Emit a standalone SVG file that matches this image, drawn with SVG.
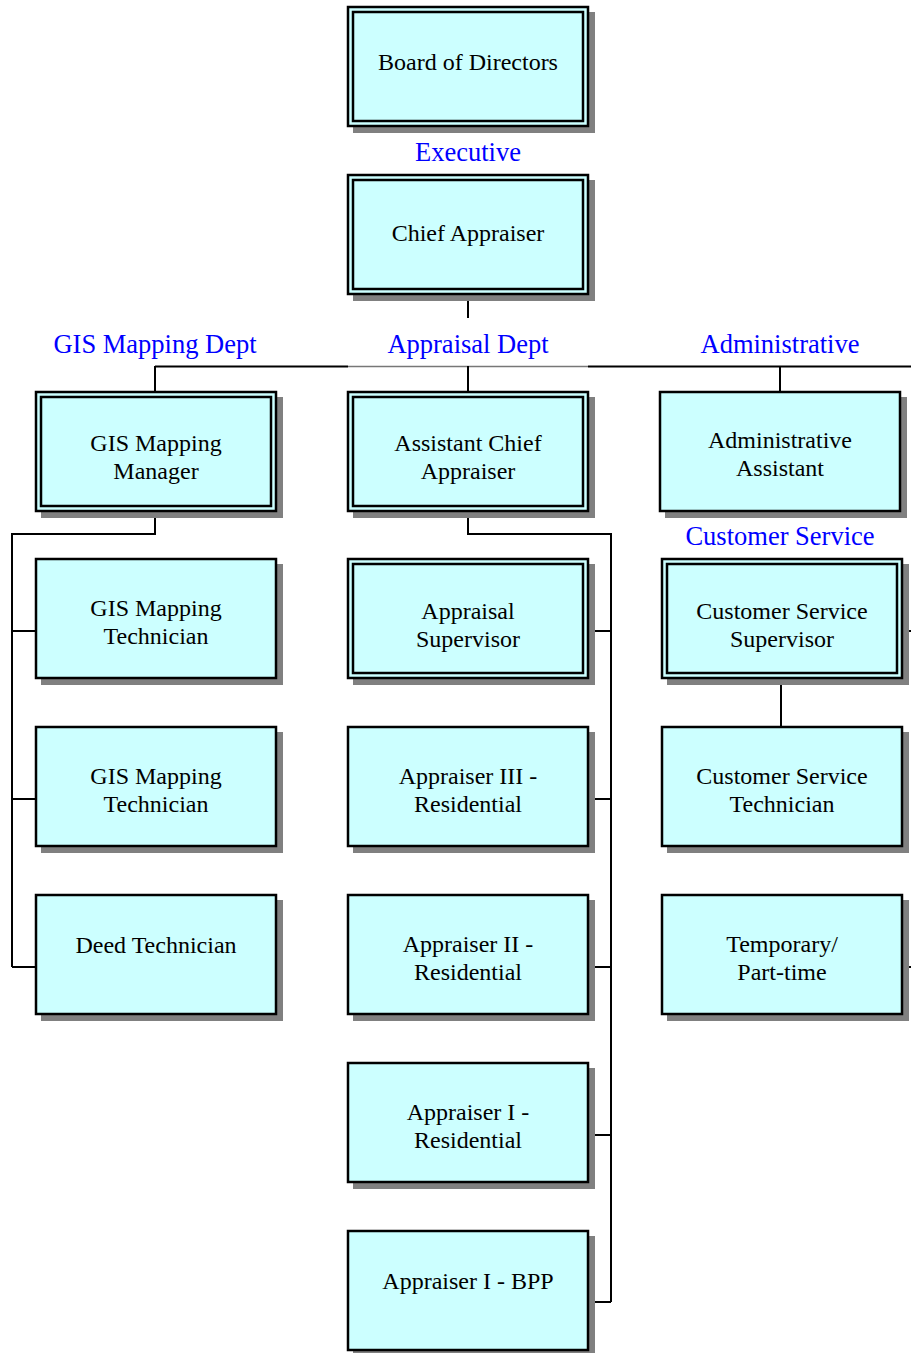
<svg xmlns="http://www.w3.org/2000/svg" width="911" height="1353" viewBox="0 0 911 1353">
<style>
.sh{fill:#808080}
.bx{fill:#ccffff;stroke:#000;stroke-width:2.5}
.in{fill:none;stroke:#000;stroke-width:2.5}
.t{font-family:"Liberation Serif","Times New Roman",serif;font-size:24px;fill:#000;text-anchor:middle}
.lb{font-family:"Liberation Serif","Times New Roman",serif;font-size:26.5px;fill:#0000ff;text-anchor:middle}
.ln{stroke:#000;stroke-width:2;fill:none}
</style>
<rect width="911" height="1353" fill="#fff"/>
<g id="connectors">
<path class="ln" d="M468 295V318"/>
<path class="ln" d="M155 366.5H348"/>
<path d="M348 366.5H588" stroke="#777" stroke-width="1.5"/>
<path class="ln" d="M588 366.5H911"/>
<path class="ln" d="M155 366V391M468 366V391M780 366V391"/>
<path class="ln" d="M155 511V534H12V967M12 631H35M12 799H35M12 967H35"/>
<path class="ln" d="M468 511V534H611V1302M589 631H611M589 799H611M589 967H611M589 1135H611M589 1302H611"/>
<path class="ln" d="M781 679V726"/>
<path class="ln" d="M903 631H911M903 967H911"/>
</g>
<g id="labels">
<text class="lb" x="468" y="161">Executive</text>
<text class="lb" x="155" y="353">GIS Mapping Dept</text>
<text class="lb" x="468" y="353">Appraisal Dept</text>
<text class="lb" x="780" y="353">Administrative</text>
<text class="lb" x="780" y="545">Customer Service</text>
</g>
<g id="board">
<rect class="sh" x="353" y="12" width="242" height="121"/>
<rect class="bx" x="348" y="7" width="240" height="119"/>
<rect class="in" x="353" y="12" width="230" height="109"/>
<text class="t" x="468" y="70">Board of Directors</text>
</g>
<g id="chief">
<rect class="sh" x="353" y="180" width="242" height="121"/>
<rect class="bx" x="348" y="175" width="240" height="119"/>
<rect class="in" x="353" y="180" width="230" height="109"/>
<text class="t" x="468" y="241">Chief Appraiser</text>
</g>
<g id="gis-manager">
<rect class="sh" x="41" y="397" width="242" height="121"/>
<rect class="bx" x="36" y="392" width="240" height="119"/>
<rect class="in" x="41" y="397" width="230" height="109"/>
<text class="t" x="156" y="451">GIS Mapping</text>
<text class="t" x="156" y="479">Manager</text>
</g>
<g id="assistant-chief">
<rect class="sh" x="353" y="397" width="242" height="121"/>
<rect class="bx" x="348" y="392" width="240" height="119"/>
<rect class="in" x="353" y="397" width="230" height="109"/>
<text class="t" x="468" y="451">Assistant Chief</text>
<text class="t" x="468" y="479">Appraiser</text>
</g>
<g id="admin-assistant">
<rect class="sh" x="665" y="397" width="242" height="121"/>
<rect class="bx" x="660" y="392" width="240" height="119"/>
<text class="t" x="780" y="448">Administrative</text>
<text class="t" x="780" y="476">Assistant</text>
</g>
<g id="gis-tech-1">
<rect class="sh" x="41" y="564" width="242" height="121"/>
<rect class="bx" x="36" y="559" width="240" height="119"/>
<text class="t" x="156" y="616">GIS Mapping</text>
<text class="t" x="156" y="644">Technician</text>
</g>
<g id="appraisal-supervisor">
<rect class="sh" x="353" y="564" width="242" height="121"/>
<rect class="bx" x="348" y="559" width="240" height="119"/>
<rect class="in" x="353" y="564" width="230" height="109"/>
<text class="t" x="468" y="619">Appraisal</text>
<text class="t" x="468" y="647">Supervisor</text>
</g>
<g id="cs-supervisor">
<rect class="sh" x="667" y="564" width="242" height="121"/>
<rect class="bx" x="662" y="559" width="240" height="119"/>
<rect class="in" x="667" y="564" width="230" height="109"/>
<text class="t" x="782" y="619">Customer Service</text>
<text class="t" x="782" y="647">Supervisor</text>
</g>
<g id="gis-tech-2">
<rect class="sh" x="41" y="732" width="242" height="121"/>
<rect class="bx" x="36" y="727" width="240" height="119"/>
<text class="t" x="156" y="784">GIS Mapping</text>
<text class="t" x="156" y="812">Technician</text>
</g>
<g id="appraiser-3">
<rect class="sh" x="353" y="732" width="242" height="121"/>
<rect class="bx" x="348" y="727" width="240" height="119"/>
<text class="t" x="468" y="784">Appraiser III -</text>
<text class="t" x="468" y="812">Residential</text>
</g>
<g id="cs-tech">
<rect class="sh" x="667" y="732" width="242" height="121"/>
<rect class="bx" x="662" y="727" width="240" height="119"/>
<text class="t" x="782" y="784">Customer Service</text>
<text class="t" x="782" y="812">Technician</text>
</g>
<g id="deed-tech">
<rect class="sh" x="41" y="900" width="242" height="121"/>
<rect class="bx" x="36" y="895" width="240" height="119"/>
<text class="t" x="156" y="953">Deed Technician</text>
</g>
<g id="appraiser-2">
<rect class="sh" x="353" y="900" width="242" height="121"/>
<rect class="bx" x="348" y="895" width="240" height="119"/>
<text class="t" x="468" y="952">Appraiser II -</text>
<text class="t" x="468" y="980">Residential</text>
</g>
<g id="temp">
<rect class="sh" x="667" y="900" width="242" height="121"/>
<rect class="bx" x="662" y="895" width="240" height="119"/>
<text class="t" x="782" y="952">Temporary/</text>
<text class="t" x="782" y="980">Part-time</text>
</g>
<g id="appraiser-1-res">
<rect class="sh" x="353" y="1068" width="242" height="121"/>
<rect class="bx" x="348" y="1063" width="240" height="119"/>
<text class="t" x="468" y="1120">Appraiser I -</text>
<text class="t" x="468" y="1148">Residential</text>
</g>
<g id="appraiser-1-bpp">
<rect class="sh" x="353" y="1236" width="242" height="121"/>
<rect class="bx" x="348" y="1231" width="240" height="119"/>
<text class="t" x="468" y="1289">Appraiser I - BPP</text>
</g>
</svg>
